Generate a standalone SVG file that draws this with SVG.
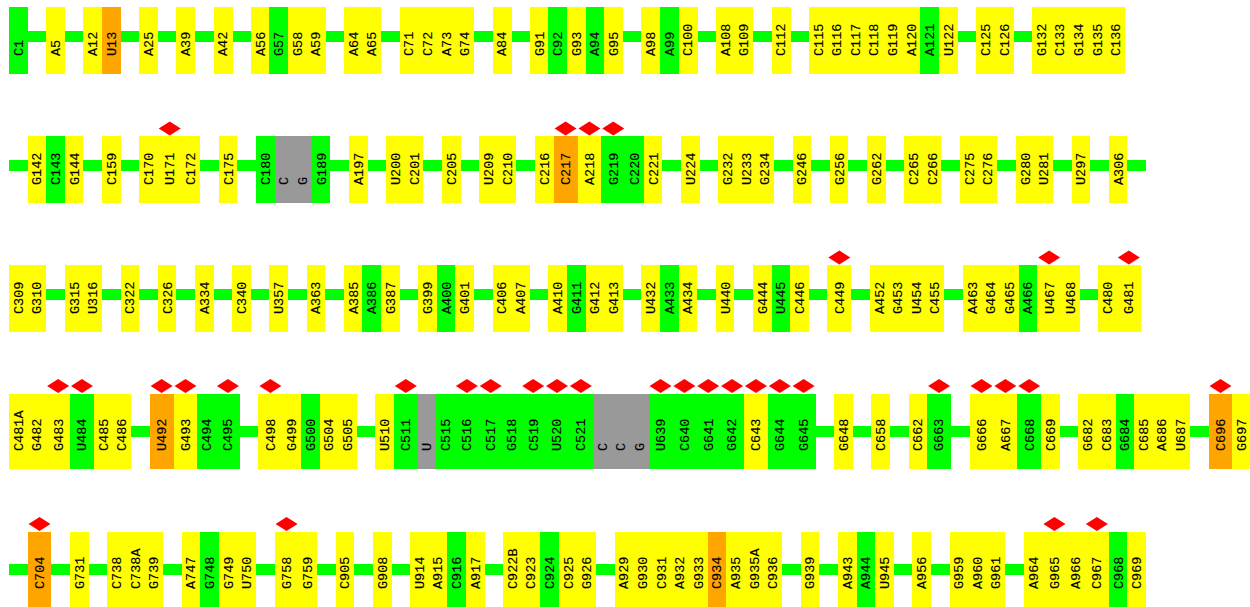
<svg xmlns="http://www.w3.org/2000/svg" xmlns:xlink="http://www.w3.org/1999/xlink" width="1250" height="607" viewBox="0 0 1250 607">
<style>
rect{shape-rendering:crispEdges}
.y{fill:#ffff00}.g{fill:#00ff00}.o{fill:#ffa500}.x{fill:#999999}
.ln{fill:#00ff00}
text{font-family:"Liberation Mono","DejaVu Sans Mono",monospace;font-size:13.5px;fill:#000;stroke:#000;stroke-width:0.15px}
</style>
<defs>
<path id="dm" d="M-11,-7.5 L0,-14.5 L11,-7.5 L0,-0.5Z" fill="#ff0000"/>
</defs>
<rect width="1250" height="607" fill="#ffffff"/>
<g id="connectors">
<rect class="ln" x="9" y="31.25" width="1116" height="10.5"/>
<rect class="ln" x="9" y="160.25" width="1137" height="10.5"/>
<rect class="ln" x="9" y="289.25" width="1131.75" height="10.5"/>
<rect class="ln" x="9" y="426.25" width="1245" height="10.5"/>
<rect class="ln" x="9" y="564.25" width="1137" height="10.5"/>
</g>
<g id="row1" transform="translate(0,7)">
<g id="n-C1" transform="translate(9)"><rect class="g" width="19" height="66.5"/><text transform="translate(13.7,49) rotate(-90)">C1</text></g>
<g id="n-A5" transform="translate(46.2)"><rect class="y" width="19" height="66.5"/><text transform="translate(13.7,49) rotate(-90)">A5</text></g>
<g id="n-A12" transform="translate(83.4)"><rect class="y" width="19" height="66.5"/><text transform="translate(13.7,49) rotate(-90)">A12</text></g>
<g id="n-U13" transform="translate(102)"><rect class="o" width="19" height="66.5"/><text transform="translate(13.7,49) rotate(-90)">U13</text></g>
<g id="n-A25" transform="translate(139.2)"><rect class="y" width="19" height="66.5"/><text transform="translate(13.7,49) rotate(-90)">A25</text></g>
<g id="n-A39" transform="translate(176.4)"><rect class="y" width="19" height="66.5"/><text transform="translate(13.7,49) rotate(-90)">A39</text></g>
<g id="n-A42" transform="translate(213.6)"><rect class="y" width="19" height="66.5"/><text transform="translate(13.7,49) rotate(-90)">A42</text></g>
<g id="n-A56" transform="translate(250.8)"><rect class="y" width="19" height="66.5"/><text transform="translate(13.7,49) rotate(-90)">A56</text></g>
<g id="n-G57" transform="translate(269.4)"><rect class="g" width="19" height="66.5"/><text transform="translate(13.7,49) rotate(-90)">G57</text></g>
<g id="n-G58" transform="translate(288)"><rect class="y" width="19" height="66.5"/><text transform="translate(13.7,49) rotate(-90)">G58</text></g>
<g id="n-A59" transform="translate(306.6)"><rect class="y" width="19" height="66.5"/><text transform="translate(13.7,49) rotate(-90)">A59</text></g>
<g id="n-A64" transform="translate(343.8)"><rect class="y" width="19" height="66.5"/><text transform="translate(13.7,49) rotate(-90)">A64</text></g>
<g id="n-A65" transform="translate(362.4)"><rect class="y" width="19" height="66.5"/><text transform="translate(13.7,49) rotate(-90)">A65</text></g>
<g id="n-C71" transform="translate(399.6)"><rect class="y" width="19" height="66.5"/><text transform="translate(13.7,49) rotate(-90)">C71</text></g>
<g id="n-C72" transform="translate(418.2)"><rect class="y" width="19" height="66.5"/><text transform="translate(13.7,49) rotate(-90)">C72</text></g>
<g id="n-A73" transform="translate(436.8)"><rect class="y" width="19" height="66.5"/><text transform="translate(13.7,49) rotate(-90)">A73</text></g>
<g id="n-G74" transform="translate(455.4)"><rect class="y" width="19" height="66.5"/><text transform="translate(13.7,49) rotate(-90)">G74</text></g>
<g id="n-A84" transform="translate(492.6)"><rect class="y" width="19" height="66.5"/><text transform="translate(13.7,49) rotate(-90)">A84</text></g>
<g id="n-G91" transform="translate(529.8)"><rect class="y" width="19" height="66.5"/><text transform="translate(13.7,49) rotate(-90)">G91</text></g>
<g id="n-C92" transform="translate(548.4)"><rect class="g" width="19" height="66.5"/><text transform="translate(13.7,49) rotate(-90)">C92</text></g>
<g id="n-G93" transform="translate(567)"><rect class="y" width="19" height="66.5"/><text transform="translate(13.7,49) rotate(-90)">G93</text></g>
<g id="n-A94" transform="translate(585.6)"><rect class="g" width="19" height="66.5"/><text transform="translate(13.7,49) rotate(-90)">A94</text></g>
<g id="n-G95" transform="translate(604.2)"><rect class="y" width="19" height="66.5"/><text transform="translate(13.7,49) rotate(-90)">G95</text></g>
<g id="n-A98" transform="translate(641.4)"><rect class="y" width="19" height="66.5"/><text transform="translate(13.7,49) rotate(-90)">A98</text></g>
<g id="n-A99" transform="translate(660)"><rect class="g" width="19" height="66.5"/><text transform="translate(13.7,49) rotate(-90)">A99</text></g>
<g id="n-C100" transform="translate(678.6)"><rect class="y" width="19" height="66.5"/><text transform="translate(13.7,49) rotate(-90)">C100</text></g>
<g id="n-A108" transform="translate(715.8)"><rect class="y" width="19" height="66.5"/><text transform="translate(13.7,49) rotate(-90)">A108</text></g>
<g id="n-G109" transform="translate(734.4)"><rect class="y" width="19" height="66.5"/><text transform="translate(13.7,49) rotate(-90)">G109</text></g>
<g id="n-C112" transform="translate(771.6)"><rect class="y" width="19" height="66.5"/><text transform="translate(13.7,49) rotate(-90)">C112</text></g>
<g id="n-C115" transform="translate(808.8)"><rect class="y" width="19" height="66.5"/><text transform="translate(13.7,49) rotate(-90)">C115</text></g>
<g id="n-G116" transform="translate(827.4)"><rect class="y" width="19" height="66.5"/><text transform="translate(13.7,49) rotate(-90)">G116</text></g>
<g id="n-C117" transform="translate(846)"><rect class="y" width="19" height="66.5"/><text transform="translate(13.7,49) rotate(-90)">C117</text></g>
<g id="n-C118" transform="translate(864.6)"><rect class="y" width="19" height="66.5"/><text transform="translate(13.7,49) rotate(-90)">C118</text></g>
<g id="n-G119" transform="translate(883.2)"><rect class="y" width="19" height="66.5"/><text transform="translate(13.7,49) rotate(-90)">G119</text></g>
<g id="n-A120" transform="translate(901.8)"><rect class="y" width="19" height="66.5"/><text transform="translate(13.7,49) rotate(-90)">A120</text></g>
<g id="n-A121" transform="translate(920.4)"><rect class="g" width="19" height="66.5"/><text transform="translate(13.7,49) rotate(-90)">A121</text></g>
<g id="n-U122" transform="translate(939)"><rect class="y" width="19" height="66.5"/><text transform="translate(13.7,49) rotate(-90)">U122</text></g>
<g id="n-C125" transform="translate(976.2)"><rect class="y" width="19" height="66.5"/><text transform="translate(13.7,49) rotate(-90)">C125</text></g>
<g id="n-C126" transform="translate(994.8)"><rect class="y" width="19" height="66.5"/><text transform="translate(13.7,49) rotate(-90)">C126</text></g>
<g id="n-G132" transform="translate(1032)"><rect class="y" width="19" height="66.5"/><text transform="translate(13.7,49) rotate(-90)">G132</text></g>
<g id="n-C133" transform="translate(1050.6)"><rect class="y" width="19" height="66.5"/><text transform="translate(13.7,49) rotate(-90)">C133</text></g>
<g id="n-G134" transform="translate(1069.2)"><rect class="y" width="19" height="66.5"/><text transform="translate(13.7,49) rotate(-90)">G134</text></g>
<g id="n-G135" transform="translate(1087.8)"><rect class="y" width="19" height="66.5"/><text transform="translate(13.7,49) rotate(-90)">G135</text></g>
<g id="n-C136" transform="translate(1106.4)"><rect class="y" width="18.6" height="66.5"/><text transform="translate(13.7,49) rotate(-90)">C136</text></g>
</g>
<g id="row2" transform="translate(0,136)">
<g id="n-G142" transform="translate(27.6)"><rect class="y" width="19" height="66.5"/><text transform="translate(13.7,49) rotate(-90)">G142</text></g>
<g id="n-C143" transform="translate(46.2)"><rect class="g" width="19" height="66.5"/><text transform="translate(13.7,49) rotate(-90)">C143</text></g>
<g id="n-G144" transform="translate(64.8)"><rect class="y" width="18.6" height="66.5"/><text transform="translate(13.7,49) rotate(-90)">G144</text></g>
<g id="n-C159" transform="translate(102)"><rect class="y" width="18.6" height="66.5"/><text transform="translate(13.7,49) rotate(-90)">C159</text></g>
<g id="n-C170" transform="translate(139.2)"><rect class="y" width="19" height="66.5"/><text transform="translate(13.7,49) rotate(-90)">C170</text></g>
<g id="n-U171" transform="translate(157.8)"><rect class="y" width="24.25" height="66.5"/><use xlink:href="#dm" x="11.925"/><text transform="translate(16.3,49) rotate(-90)">U171</text></g>
<g id="n-C172" transform="translate(181.65)"><rect class="y" width="18.6" height="66.5"/><text transform="translate(13.7,49) rotate(-90)">C172</text></g>
<g id="n-C175" transform="translate(218.85)"><rect class="y" width="18.6" height="66.5"/><text transform="translate(13.7,49) rotate(-90)">C175</text></g>
<g id="n-C180" transform="translate(256.05)"><rect class="g" width="19" height="66.5"/><text transform="translate(13.7,49) rotate(-90)">C180</text></g>
<g id="n-r2gapC" transform="translate(274.65)"><rect class="x" width="19" height="66.5"/><text transform="translate(13.7,49) rotate(-90)">C</text></g>
<g id="n-r2gapG" transform="translate(293.25)"><rect class="x" width="19" height="66.5"/><text transform="translate(13.7,49) rotate(-90)">G</text></g>
<g id="n-G189" transform="translate(311.85)"><rect class="g" width="18.6" height="66.5"/><text transform="translate(13.7,49) rotate(-90)">G189</text></g>
<g id="n-A197" transform="translate(349.05)"><rect class="y" width="18.6" height="66.5"/><text transform="translate(13.7,49) rotate(-90)">A197</text></g>
<g id="n-U200" transform="translate(386.25)"><rect class="y" width="19" height="66.5"/><text transform="translate(13.7,49) rotate(-90)">U200</text></g>
<g id="n-C201" transform="translate(404.85)"><rect class="y" width="18.6" height="66.5"/><text transform="translate(13.7,49) rotate(-90)">C201</text></g>
<g id="n-C205" transform="translate(442.05)"><rect class="y" width="18.6" height="66.5"/><text transform="translate(13.7,49) rotate(-90)">C205</text></g>
<g id="n-U209" transform="translate(479.25)"><rect class="y" width="19" height="66.5"/><text transform="translate(13.7,49) rotate(-90)">U209</text></g>
<g id="n-C210" transform="translate(497.85)"><rect class="y" width="18.6" height="66.5"/><text transform="translate(13.7,49) rotate(-90)">C210</text></g>
<g id="n-C216" transform="translate(535.05)"><rect class="y" width="19" height="66.5"/><text transform="translate(13.7,49) rotate(-90)">C216</text></g>
<g id="n-C217" transform="translate(553.65)"><rect class="o" width="24.25" height="66.5"/><use xlink:href="#dm" x="11.925"/><text transform="translate(16.3,49) rotate(-90)">C217</text></g>
<g id="n-A218" transform="translate(577.5)"><rect class="y" width="24.25" height="66.5"/><use xlink:href="#dm" x="11.925"/><text transform="translate(16.3,49) rotate(-90)">A218</text></g>
<g id="n-G219" transform="translate(601.35)"><rect class="g" width="24.25" height="66.5"/><use xlink:href="#dm" x="11.925"/><text transform="translate(16.3,49) rotate(-90)">G219</text></g>
<g id="n-C220" transform="translate(625.2)"><rect class="g" width="19" height="66.5"/><text transform="translate(13.7,49) rotate(-90)">C220</text></g>
<g id="n-C221" transform="translate(643.8)"><rect class="y" width="18.6" height="66.5"/><text transform="translate(13.7,49) rotate(-90)">C221</text></g>
<g id="n-U224" transform="translate(681)"><rect class="y" width="18.6" height="66.5"/><text transform="translate(13.7,49) rotate(-90)">U224</text></g>
<g id="n-G232" transform="translate(718.2)"><rect class="y" width="19" height="66.5"/><text transform="translate(13.7,49) rotate(-90)">G232</text></g>
<g id="n-U233" transform="translate(736.8)"><rect class="y" width="19" height="66.5"/><text transform="translate(13.7,49) rotate(-90)">U233</text></g>
<g id="n-G234" transform="translate(755.4)"><rect class="y" width="18.6" height="66.5"/><text transform="translate(13.7,49) rotate(-90)">G234</text></g>
<g id="n-G246" transform="translate(792.6)"><rect class="y" width="18.6" height="66.5"/><text transform="translate(13.7,49) rotate(-90)">G246</text></g>
<g id="n-G256" transform="translate(829.8)"><rect class="y" width="18.6" height="66.5"/><text transform="translate(13.7,49) rotate(-90)">G256</text></g>
<g id="n-G262" transform="translate(867)"><rect class="y" width="18.6" height="66.5"/><text transform="translate(13.7,49) rotate(-90)">G262</text></g>
<g id="n-C265" transform="translate(904.2)"><rect class="y" width="19" height="66.5"/><text transform="translate(13.7,49) rotate(-90)">C265</text></g>
<g id="n-C266" transform="translate(922.8)"><rect class="y" width="18.6" height="66.5"/><text transform="translate(13.7,49) rotate(-90)">C266</text></g>
<g id="n-C275" transform="translate(960)"><rect class="y" width="19" height="66.5"/><text transform="translate(13.7,49) rotate(-90)">C275</text></g>
<g id="n-C276" transform="translate(978.6)"><rect class="y" width="18.6" height="66.5"/><text transform="translate(13.7,49) rotate(-90)">C276</text></g>
<g id="n-G280" transform="translate(1015.8)"><rect class="y" width="19" height="66.5"/><text transform="translate(13.7,49) rotate(-90)">G280</text></g>
<g id="n-U281" transform="translate(1034.4)"><rect class="y" width="18.6" height="66.5"/><text transform="translate(13.7,49) rotate(-90)">U281</text></g>
<g id="n-U297" transform="translate(1071.6)"><rect class="y" width="18.6" height="66.5"/><text transform="translate(13.7,49) rotate(-90)">U297</text></g>
<g id="n-A306" transform="translate(1108.8)"><rect class="y" width="18.6" height="66.5"/><text transform="translate(13.7,49) rotate(-90)">A306</text></g>
</g>
<g id="row3" transform="translate(0,265)">
<g id="n-C309" transform="translate(9)"><rect class="y" width="19" height="66.5"/><text transform="translate(13.7,49) rotate(-90)">C309</text></g>
<g id="n-G310" transform="translate(27.6)"><rect class="y" width="18.6" height="66.5"/><text transform="translate(13.7,49) rotate(-90)">G310</text></g>
<g id="n-G315" transform="translate(64.8)"><rect class="y" width="19" height="66.5"/><text transform="translate(13.7,49) rotate(-90)">G315</text></g>
<g id="n-U316" transform="translate(83.4)"><rect class="y" width="18.6" height="66.5"/><text transform="translate(13.7,49) rotate(-90)">U316</text></g>
<g id="n-C322" transform="translate(120.6)"><rect class="y" width="18.6" height="66.5"/><text transform="translate(13.7,49) rotate(-90)">C322</text></g>
<g id="n-C326" transform="translate(157.8)"><rect class="y" width="18.6" height="66.5"/><text transform="translate(13.7,49) rotate(-90)">C326</text></g>
<g id="n-A334" transform="translate(195)"><rect class="y" width="18.6" height="66.5"/><text transform="translate(13.7,49) rotate(-90)">A334</text></g>
<g id="n-C340" transform="translate(232.2)"><rect class="y" width="18.6" height="66.5"/><text transform="translate(13.7,49) rotate(-90)">C340</text></g>
<g id="n-U357" transform="translate(269.4)"><rect class="y" width="18.6" height="66.5"/><text transform="translate(13.7,49) rotate(-90)">U357</text></g>
<g id="n-A363" transform="translate(306.6)"><rect class="y" width="18.6" height="66.5"/><text transform="translate(13.7,49) rotate(-90)">A363</text></g>
<g id="n-A385" transform="translate(343.8)"><rect class="y" width="19" height="66.5"/><text transform="translate(13.7,49) rotate(-90)">A385</text></g>
<g id="n-A386" transform="translate(362.4)"><rect class="g" width="19" height="66.5"/><text transform="translate(13.7,49) rotate(-90)">A386</text></g>
<g id="n-G387" transform="translate(381)"><rect class="y" width="18.6" height="66.5"/><text transform="translate(13.7,49) rotate(-90)">G387</text></g>
<g id="n-G399" transform="translate(418.2)"><rect class="y" width="19" height="66.5"/><text transform="translate(13.7,49) rotate(-90)">G399</text></g>
<g id="n-A400" transform="translate(436.8)"><rect class="g" width="19" height="66.5"/><text transform="translate(13.7,49) rotate(-90)">A400</text></g>
<g id="n-G401" transform="translate(455.4)"><rect class="y" width="18.6" height="66.5"/><text transform="translate(13.7,49) rotate(-90)">G401</text></g>
<g id="n-C406" transform="translate(492.6)"><rect class="y" width="19" height="66.5"/><text transform="translate(13.7,49) rotate(-90)">C406</text></g>
<g id="n-A407" transform="translate(511.2)"><rect class="y" width="18.6" height="66.5"/><text transform="translate(13.7,49) rotate(-90)">A407</text></g>
<g id="n-A410" transform="translate(548.4)"><rect class="y" width="19" height="66.5"/><text transform="translate(13.7,49) rotate(-90)">A410</text></g>
<g id="n-G411" transform="translate(567)"><rect class="g" width="19" height="66.5"/><text transform="translate(13.7,49) rotate(-90)">G411</text></g>
<g id="n-G412" transform="translate(585.6)"><rect class="y" width="19" height="66.5"/><text transform="translate(13.7,49) rotate(-90)">G412</text></g>
<g id="n-G413" transform="translate(604.2)"><rect class="y" width="18.6" height="66.5"/><text transform="translate(13.7,49) rotate(-90)">G413</text></g>
<g id="n-U432" transform="translate(641.4)"><rect class="y" width="19" height="66.5"/><text transform="translate(13.7,49) rotate(-90)">U432</text></g>
<g id="n-A433" transform="translate(660)"><rect class="g" width="19" height="66.5"/><text transform="translate(13.7,49) rotate(-90)">A433</text></g>
<g id="n-A434" transform="translate(678.6)"><rect class="y" width="18.6" height="66.5"/><text transform="translate(13.7,49) rotate(-90)">A434</text></g>
<g id="n-U440" transform="translate(715.8)"><rect class="y" width="18.6" height="66.5"/><text transform="translate(13.7,49) rotate(-90)">U440</text></g>
<g id="n-G444" transform="translate(753)"><rect class="y" width="19" height="66.5"/><text transform="translate(13.7,49) rotate(-90)">G444</text></g>
<g id="n-U445" transform="translate(771.6)"><rect class="g" width="19" height="66.5"/><text transform="translate(13.7,49) rotate(-90)">U445</text></g>
<g id="n-C446" transform="translate(790.2)"><rect class="y" width="18.6" height="66.5"/><text transform="translate(13.7,49) rotate(-90)">C446</text></g>
<g id="n-C449" transform="translate(827.4)"><rect class="y" width="23.85" height="66.5"/><use xlink:href="#dm" x="11.925"/><text transform="translate(16.3,49) rotate(-90)">C449</text></g>
<g id="n-A452" transform="translate(869.85)"><rect class="y" width="19" height="66.5"/><text transform="translate(13.7,49) rotate(-90)">A452</text></g>
<g id="n-G453" transform="translate(888.45)"><rect class="y" width="19" height="66.5"/><text transform="translate(13.7,49) rotate(-90)">G453</text></g>
<g id="n-U454" transform="translate(907.05)"><rect class="y" width="19" height="66.5"/><text transform="translate(13.7,49) rotate(-90)">U454</text></g>
<g id="n-C455" transform="translate(925.65)"><rect class="y" width="18.6" height="66.5"/><text transform="translate(13.7,49) rotate(-90)">C455</text></g>
<g id="n-A463" transform="translate(962.85)"><rect class="y" width="19" height="66.5"/><text transform="translate(13.7,49) rotate(-90)">A463</text></g>
<g id="n-G464" transform="translate(981.45)"><rect class="y" width="19" height="66.5"/><text transform="translate(13.7,49) rotate(-90)">G464</text></g>
<g id="n-G465" transform="translate(1000.05)"><rect class="y" width="19" height="66.5"/><text transform="translate(13.7,49) rotate(-90)">G465</text></g>
<g id="n-A466" transform="translate(1018.65)"><rect class="g" width="19" height="66.5"/><text transform="translate(13.7,49) rotate(-90)">A466</text></g>
<g id="n-U467" transform="translate(1037.25)"><rect class="y" width="24.25" height="66.5"/><use xlink:href="#dm" x="11.925"/><text transform="translate(16.3,49) rotate(-90)">U467</text></g>
<g id="n-U468" transform="translate(1061.1)"><rect class="y" width="18.6" height="66.5"/><text transform="translate(13.7,49) rotate(-90)">U468</text></g>
<g id="n-C480" transform="translate(1098.3)"><rect class="y" width="19" height="66.5"/><text transform="translate(13.7,49) rotate(-90)">C480</text></g>
<g id="n-G481" transform="translate(1116.9)"><rect class="y" width="23.85" height="66.5"/><use xlink:href="#dm" x="11.925"/><text transform="translate(16.3,49) rotate(-90)">G481</text></g>
</g>
<g id="row4" transform="translate(0,393.5)">
<g id="n-C481A" transform="translate(9)"><rect class="y" width="19" height="75"/><text transform="translate(13.7,57.5) rotate(-90)">C481A</text></g>
<g id="n-G482" transform="translate(27.6)"><rect class="y" width="19" height="75"/><text transform="translate(13.7,57.5) rotate(-90)">G482</text></g>
<g id="n-G483" transform="translate(46.2)"><rect class="y" width="24.25" height="75"/><use xlink:href="#dm" x="11.925"/><text transform="translate(16.3,57.5) rotate(-90)">G483</text></g>
<g id="n-U484" transform="translate(70.05)"><rect class="g" width="24.25" height="75"/><use xlink:href="#dm" x="11.925"/><text transform="translate(16.3,57.5) rotate(-90)">U484</text></g>
<g id="n-C485" transform="translate(93.9)"><rect class="y" width="19" height="75"/><text transform="translate(13.7,57.5) rotate(-90)">C485</text></g>
<g id="n-C486" transform="translate(112.5)"><rect class="y" width="18.6" height="75"/><text transform="translate(13.7,57.5) rotate(-90)">C486</text></g>
<g id="n-U492" transform="translate(149.7)"><rect class="o" width="24.25" height="75"/><use xlink:href="#dm" x="11.925"/><text transform="translate(16.3,57.5) rotate(-90)">U492</text></g>
<g id="n-G493" transform="translate(173.55)"><rect class="y" width="24.25" height="75"/><use xlink:href="#dm" x="11.925"/><text transform="translate(16.3,57.5) rotate(-90)">G493</text></g>
<g id="n-C494" transform="translate(197.4)"><rect class="g" width="19" height="75"/><text transform="translate(13.7,57.5) rotate(-90)">C494</text></g>
<g id="n-C495" transform="translate(216)"><rect class="g" width="23.85" height="75"/><use xlink:href="#dm" x="11.925"/><text transform="translate(16.3,57.5) rotate(-90)">C495</text></g>
<g id="n-C498" transform="translate(258.45)"><rect class="y" width="24.25" height="75"/><use xlink:href="#dm" x="11.925"/><text transform="translate(16.3,57.5) rotate(-90)">C498</text></g>
<g id="n-G499" transform="translate(282.3)"><rect class="y" width="19" height="75"/><text transform="translate(13.7,57.5) rotate(-90)">G499</text></g>
<g id="n-G500" transform="translate(300.9)"><rect class="g" width="19" height="75"/><text transform="translate(13.7,57.5) rotate(-90)">G500</text></g>
<g id="n-G504" transform="translate(319.5)"><rect class="y" width="19" height="75"/><text transform="translate(13.7,57.5) rotate(-90)">G504</text></g>
<g id="n-G505" transform="translate(338.1)"><rect class="y" width="18.6" height="75"/><text transform="translate(13.7,57.5) rotate(-90)">G505</text></g>
<g id="n-U510" transform="translate(375.3)"><rect class="y" width="19" height="75"/><text transform="translate(13.7,57.5) rotate(-90)">U510</text></g>
<g id="n-C511" transform="translate(393.9)"><rect class="g" width="24.25" height="75"/><use xlink:href="#dm" x="11.925"/><text transform="translate(16.3,57.5) rotate(-90)">C511</text></g>
<g id="n-r4gapU" transform="translate(417.75)"><rect class="x" width="19" height="75"/><text transform="translate(13.7,57.5) rotate(-90)">U</text></g>
<g id="n-C515" transform="translate(436.35)"><rect class="g" width="19" height="75"/><text transform="translate(13.7,57.5) rotate(-90)">C515</text></g>
<g id="n-C516" transform="translate(454.95)"><rect class="g" width="24.25" height="75"/><use xlink:href="#dm" x="11.925"/><text transform="translate(16.3,57.5) rotate(-90)">C516</text></g>
<g id="n-C517" transform="translate(478.8)"><rect class="g" width="24.25" height="75"/><use xlink:href="#dm" x="11.925"/><text transform="translate(16.3,57.5) rotate(-90)">C517</text></g>
<g id="n-G518" transform="translate(502.65)"><rect class="g" width="19" height="75"/><text transform="translate(13.7,57.5) rotate(-90)">G518</text></g>
<g id="n-C519" transform="translate(521.25)"><rect class="g" width="24.25" height="75"/><use xlink:href="#dm" x="11.925"/><text transform="translate(16.3,57.5) rotate(-90)">C519</text></g>
<g id="n-U520" transform="translate(545.1)"><rect class="g" width="24.25" height="75"/><use xlink:href="#dm" x="11.925"/><text transform="translate(16.3,57.5) rotate(-90)">U520</text></g>
<g id="n-C521" transform="translate(568.95)"><rect class="g" width="24.25" height="75"/><use xlink:href="#dm" x="11.925"/><text transform="translate(16.3,57.5) rotate(-90)">C521</text></g>
<g id="n-r4gapC1" transform="translate(592.8)"><rect class="x" width="19" height="75"/><text transform="translate(13.7,57.5) rotate(-90)">C</text></g>
<g id="n-r4gapC2" transform="translate(611.4)"><rect class="x" width="19" height="75"/><text transform="translate(13.7,57.5) rotate(-90)">C</text></g>
<g id="n-r4gapG" transform="translate(630)"><rect class="x" width="19" height="75"/><text transform="translate(13.7,57.5) rotate(-90)">G</text></g>
<g id="n-U639" transform="translate(648.6)"><rect class="g" width="24.25" height="75"/><use xlink:href="#dm" x="11.925"/><text transform="translate(16.3,57.5) rotate(-90)">U639</text></g>
<g id="n-C640" transform="translate(672.45)"><rect class="g" width="24.25" height="75"/><use xlink:href="#dm" x="11.925"/><text transform="translate(16.3,57.5) rotate(-90)">C640</text></g>
<g id="n-G641" transform="translate(696.3)"><rect class="g" width="24.25" height="75"/><use xlink:href="#dm" x="11.925"/><text transform="translate(16.3,57.5) rotate(-90)">G641</text></g>
<g id="n-G642" transform="translate(720.15)"><rect class="g" width="24.25" height="75"/><use xlink:href="#dm" x="11.925"/><text transform="translate(16.3,57.5) rotate(-90)">G642</text></g>
<g id="n-C643" transform="translate(744)"><rect class="y" width="24.25" height="75"/><use xlink:href="#dm" x="11.925"/><text transform="translate(16.3,57.5) rotate(-90)">C643</text></g>
<g id="n-G644" transform="translate(767.85)"><rect class="g" width="24.25" height="75"/><use xlink:href="#dm" x="11.925"/><text transform="translate(16.3,57.5) rotate(-90)">G644</text></g>
<g id="n-G645" transform="translate(791.7)"><rect class="g" width="23.85" height="75"/><use xlink:href="#dm" x="11.925"/><text transform="translate(16.3,57.5) rotate(-90)">G645</text></g>
<g id="n-G648" transform="translate(834.15)"><rect class="y" width="18.6" height="75"/><text transform="translate(13.7,57.5) rotate(-90)">G648</text></g>
<g id="n-C658" transform="translate(871.35)"><rect class="y" width="18.6" height="75"/><text transform="translate(13.7,57.5) rotate(-90)">C658</text></g>
<g id="n-C662" transform="translate(908.55)"><rect class="y" width="19" height="75"/><text transform="translate(13.7,57.5) rotate(-90)">C662</text></g>
<g id="n-G663" transform="translate(927.15)"><rect class="g" width="23.85" height="75"/><use xlink:href="#dm" x="11.925"/><text transform="translate(16.3,57.5) rotate(-90)">G663</text></g>
<g id="n-G666" transform="translate(969.6)"><rect class="y" width="24.25" height="75"/><use xlink:href="#dm" x="11.925"/><text transform="translate(16.3,57.5) rotate(-90)">G666</text></g>
<g id="n-A667" transform="translate(993.45)"><rect class="y" width="24.25" height="75"/><use xlink:href="#dm" x="11.925"/><text transform="translate(16.3,57.5) rotate(-90)">A667</text></g>
<g id="n-C668" transform="translate(1017.3)"><rect class="g" width="24.25" height="75"/><use xlink:href="#dm" x="11.925"/><text transform="translate(16.3,57.5) rotate(-90)">C668</text></g>
<g id="n-C669" transform="translate(1041.15)"><rect class="y" width="18.6" height="75"/><text transform="translate(13.7,57.5) rotate(-90)">C669</text></g>
<g id="n-G682" transform="translate(1078.35)"><rect class="y" width="19" height="75"/><text transform="translate(13.7,57.5) rotate(-90)">G682</text></g>
<g id="n-C683" transform="translate(1096.95)"><rect class="y" width="19" height="75"/><text transform="translate(13.7,57.5) rotate(-90)">C683</text></g>
<g id="n-G684" transform="translate(1115.55)"><rect class="g" width="19" height="75"/><text transform="translate(13.7,57.5) rotate(-90)">G684</text></g>
<g id="n-C685" transform="translate(1134.15)"><rect class="y" width="19" height="75"/><text transform="translate(13.7,57.5) rotate(-90)">C685</text></g>
<g id="n-A686" transform="translate(1152.75)"><rect class="y" width="19" height="75"/><text transform="translate(13.7,57.5) rotate(-90)">A686</text></g>
<g id="n-U687" transform="translate(1171.35)"><rect class="y" width="18.6" height="75"/><text transform="translate(13.7,57.5) rotate(-90)">U687</text></g>
<g id="n-C696" transform="translate(1208.55)"><rect class="o" width="24.25" height="75"/><use xlink:href="#dm" x="11.925"/><text transform="translate(16.3,57.5) rotate(-90)">C696</text></g>
<g id="n-G697" transform="translate(1232.4)"><rect class="y" width="18.6" height="75"/><text transform="translate(13.7,57.5) rotate(-90)">G697</text></g>
</g>
<g id="row5" transform="translate(0,531.5)">
<g id="n-C704" transform="translate(27.6)"><rect class="o" width="23.85" height="75"/><use xlink:href="#dm" x="11.925"/><text transform="translate(16.3,57.5) rotate(-90)">C704</text></g>
<g id="n-G731" transform="translate(70.05)"><rect class="y" width="18.6" height="75"/><text transform="translate(13.7,57.5) rotate(-90)">G731</text></g>
<g id="n-C738" transform="translate(107.25)"><rect class="y" width="19" height="75"/><text transform="translate(13.7,57.5) rotate(-90)">C738</text></g>
<g id="n-C738A" transform="translate(125.85)"><rect class="y" width="19" height="75"/><text transform="translate(13.7,57.5) rotate(-90)">C738A</text></g>
<g id="n-G739" transform="translate(144.45)"><rect class="y" width="18.6" height="75"/><text transform="translate(13.7,57.5) rotate(-90)">G739</text></g>
<g id="n-A747" transform="translate(181.65)"><rect class="y" width="19" height="75"/><text transform="translate(13.7,57.5) rotate(-90)">A747</text></g>
<g id="n-G748" transform="translate(200.25)"><rect class="g" width="19" height="75"/><text transform="translate(13.7,57.5) rotate(-90)">G748</text></g>
<g id="n-G749" transform="translate(218.85)"><rect class="y" width="19" height="75"/><text transform="translate(13.7,57.5) rotate(-90)">G749</text></g>
<g id="n-U750" transform="translate(237.45)"><rect class="y" width="18.6" height="75"/><text transform="translate(13.7,57.5) rotate(-90)">U750</text></g>
<g id="n-G758" transform="translate(274.65)"><rect class="y" width="24.25" height="75"/><use xlink:href="#dm" x="11.925"/><text transform="translate(16.3,57.5) rotate(-90)">G758</text></g>
<g id="n-G759" transform="translate(298.5)"><rect class="y" width="18.6" height="75"/><text transform="translate(13.7,57.5) rotate(-90)">G759</text></g>
<g id="n-C905" transform="translate(335.7)"><rect class="y" width="18.6" height="75"/><text transform="translate(13.7,57.5) rotate(-90)">C905</text></g>
<g id="n-G908" transform="translate(372.9)"><rect class="y" width="18.6" height="75"/><text transform="translate(13.7,57.5) rotate(-90)">G908</text></g>
<g id="n-U914" transform="translate(410.1)"><rect class="y" width="19" height="75"/><text transform="translate(13.7,57.5) rotate(-90)">U914</text></g>
<g id="n-A915" transform="translate(428.7)"><rect class="y" width="19" height="75"/><text transform="translate(13.7,57.5) rotate(-90)">A915</text></g>
<g id="n-C916" transform="translate(447.3)"><rect class="g" width="19" height="75"/><text transform="translate(13.7,57.5) rotate(-90)">C916</text></g>
<g id="n-A917" transform="translate(465.9)"><rect class="y" width="18.6" height="75"/><text transform="translate(13.7,57.5) rotate(-90)">A917</text></g>
<g id="n-C922B" transform="translate(503.1)"><rect class="y" width="19" height="75"/><text transform="translate(13.7,57.5) rotate(-90)">C922B</text></g>
<g id="n-C923" transform="translate(521.7)"><rect class="y" width="19" height="75"/><text transform="translate(13.7,57.5) rotate(-90)">C923</text></g>
<g id="n-C924" transform="translate(540.3)"><rect class="g" width="19" height="75"/><text transform="translate(13.7,57.5) rotate(-90)">C924</text></g>
<g id="n-C925" transform="translate(558.9)"><rect class="y" width="19" height="75"/><text transform="translate(13.7,57.5) rotate(-90)">C925</text></g>
<g id="n-G926" transform="translate(577.5)"><rect class="y" width="18.6" height="75"/><text transform="translate(13.7,57.5) rotate(-90)">G926</text></g>
<g id="n-A929" transform="translate(614.7)"><rect class="y" width="19" height="75"/><text transform="translate(13.7,57.5) rotate(-90)">A929</text></g>
<g id="n-G930" transform="translate(633.3)"><rect class="y" width="19" height="75"/><text transform="translate(13.7,57.5) rotate(-90)">G930</text></g>
<g id="n-C931" transform="translate(651.9)"><rect class="y" width="19" height="75"/><text transform="translate(13.7,57.5) rotate(-90)">C931</text></g>
<g id="n-A932" transform="translate(670.5)"><rect class="y" width="19" height="75"/><text transform="translate(13.7,57.5) rotate(-90)">A932</text></g>
<g id="n-G933" transform="translate(689.1)"><rect class="y" width="19" height="75"/><text transform="translate(13.7,57.5) rotate(-90)">G933</text></g>
<g id="n-C934" transform="translate(707.7)"><rect class="o" width="19" height="75"/><text transform="translate(13.7,57.5) rotate(-90)">C934</text></g>
<g id="n-A935" transform="translate(726.3)"><rect class="y" width="19" height="75"/><text transform="translate(13.7,57.5) rotate(-90)">A935</text></g>
<g id="n-G935A" transform="translate(744.9)"><rect class="y" width="19" height="75"/><text transform="translate(13.7,57.5) rotate(-90)">G935A</text></g>
<g id="n-C936" transform="translate(763.5)"><rect class="y" width="18.6" height="75"/><text transform="translate(13.7,57.5) rotate(-90)">C936</text></g>
<g id="n-G939" transform="translate(800.7)"><rect class="y" width="18.6" height="75"/><text transform="translate(13.7,57.5) rotate(-90)">G939</text></g>
<g id="n-A943" transform="translate(837.9)"><rect class="y" width="19" height="75"/><text transform="translate(13.7,57.5) rotate(-90)">A943</text></g>
<g id="n-A944" transform="translate(856.5)"><rect class="g" width="19" height="75"/><text transform="translate(13.7,57.5) rotate(-90)">A944</text></g>
<g id="n-U945" transform="translate(875.1)"><rect class="y" width="18.6" height="75"/><text transform="translate(13.7,57.5) rotate(-90)">U945</text></g>
<g id="n-A956" transform="translate(912.3)"><rect class="y" width="18.6" height="75"/><text transform="translate(13.7,57.5) rotate(-90)">A956</text></g>
<g id="n-G959" transform="translate(949.5)"><rect class="y" width="19" height="75"/><text transform="translate(13.7,57.5) rotate(-90)">G959</text></g>
<g id="n-A960" transform="translate(968.1)"><rect class="y" width="19" height="75"/><text transform="translate(13.7,57.5) rotate(-90)">A960</text></g>
<g id="n-G961" transform="translate(986.7)"><rect class="y" width="18.6" height="75"/><text transform="translate(13.7,57.5) rotate(-90)">G961</text></g>
<g id="n-A964" transform="translate(1023.9)"><rect class="y" width="19" height="75"/><text transform="translate(13.7,57.5) rotate(-90)">A964</text></g>
<g id="n-G965" transform="translate(1042.5)"><rect class="y" width="24.25" height="75"/><use xlink:href="#dm" x="11.925"/><text transform="translate(16.3,57.5) rotate(-90)">G965</text></g>
<g id="n-A966" transform="translate(1066.35)"><rect class="y" width="19" height="75"/><text transform="translate(13.7,57.5) rotate(-90)">A966</text></g>
<g id="n-C967" transform="translate(1084.95)"><rect class="y" width="24.25" height="75"/><use xlink:href="#dm" x="11.925"/><text transform="translate(16.3,57.5) rotate(-90)">C967</text></g>
<g id="n-C968" transform="translate(1108.8)"><rect class="g" width="19" height="75"/><text transform="translate(13.7,57.5) rotate(-90)">C968</text></g>
<g id="n-C969" transform="translate(1127.4)"><rect class="y" width="18.6" height="75"/><text transform="translate(13.7,57.5) rotate(-90)">C969</text></g>
</g>
</svg>
